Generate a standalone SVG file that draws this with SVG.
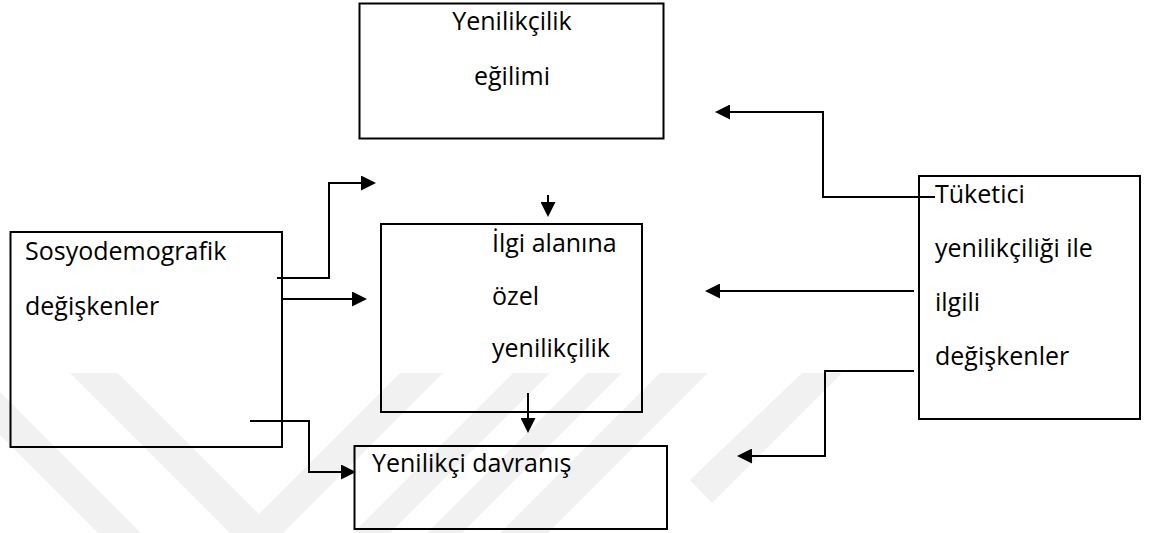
<svg xmlns="http://www.w3.org/2000/svg" width="1149" height="533" viewBox="0 0 1149 533">
<style>
.box{fill:none;stroke:#000;stroke-width:2}
.wm{fill:#f1f1f1;stroke:none}
.lbl{font-family:"Open Sans","Liberation Sans",sans-serif;font-size:25px;fill:#000}
.mid{text-anchor:middle}
.con{fill:none;stroke:#000;stroke-width:2;marker-end:url(#ah)}
</style>
<defs>
<marker id="ah" viewBox="0 0 15 15" refX="4" refY="7.5" markerWidth="15" markerHeight="15" markerUnits="userSpaceOnUse" orient="auto">
<path d="M0,0 L15,7.5 L0,15 z" fill="#000"/>
</marker>
</defs>
<rect width="1149" height="533" fill="#fff"/>
<g id="watermark">
<polygon class="wm" points="0,392 141,533 98,533 0,435"/>
<polygon class="wm" points="70,373 118,373 259,514 400,373 443,373 283,533 230,533"/>
<polygon class="wm" points="513,373 550,373 390,533 353,533"/>
<polygon class="wm" points="587,373 622,373 462,533 427,533"/>
<polygon class="wm" points="660,373 708,373 548,533 500,533"/>
<polygon class="wm" points="802,373 842,373 712,503 690,480"/>
</g>
<g id="connectors">
<path class="con" d="M277,278 H329 V183 H365"/>
<path class="con" d="M282,299 H356"/>
<path class="con" d="M250,421 H309 V472 H345"/>
<path class="con" d="M548,195 V206"/>
<path class="con" d="M528,393 V422"/>
<path class="con" d="M935,197 H823 V112 H726"/>
<path class="con" d="M914,291 H716"/>
<path class="con" d="M914,371 H825 V456 H748"/>
</g>
<g id="node-sosyodemografik">
<rect class="box" x="10.5" y="232" width="271.5" height="215"/>
<text class="lbl" x="25" y="260">Sosyodemografik</text>
<text class="lbl" x="25" y="315">değişkenler</text>
</g>
<g id="node-egilim">
<rect class="box" x="359.5" y="3.5" width="304" height="135"/>
<text class="lbl mid" x="512" y="30">Yenilikçilik</text>
<text class="lbl mid" x="512" y="85">eğilimi</text>
</g>
<g id="node-ilgi">
<rect class="box" x="381" y="224" width="261" height="188"/>
<text class="lbl" x="492" y="252">İlgi alanına</text>
<text class="lbl" x="492" y="305">özel</text>
<text class="lbl" x="492" y="357">yenilikçilik</text>
</g>
<g id="node-davranis">
<rect class="box" x="354.5" y="446" width="312.5" height="83"/>
<text class="lbl" x="372" y="472">Yenilikçi davranış</text>
</g>
<g id="node-tuketici">
<rect class="box" x="919" y="176" width="221" height="243"/>
<text class="lbl" x="935" y="203">Tüketici</text>
<text class="lbl" x="935" y="257">yenilikçiliği ile</text>
<text class="lbl" x="935" y="311">ilgili</text>
<text class="lbl" x="935" y="365">değişkenler</text>
</g>
</svg>
